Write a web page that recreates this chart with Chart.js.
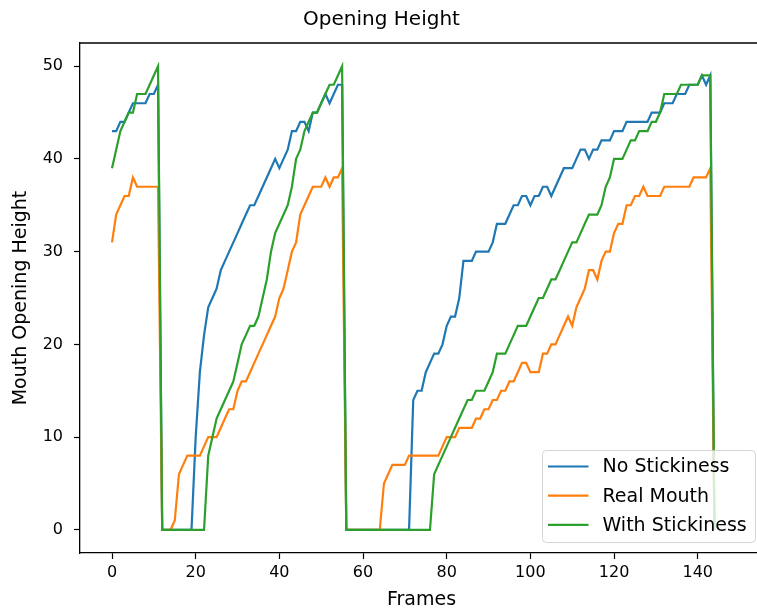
<!DOCTYPE html>
<html>
<head>
<meta charset="utf-8">
<script src="https://cdn.jsdelivr.net/npm/chart.js@4.4.1/dist/chart.umd.min.js"></script>
<style>
  html, body { margin: 0; padding: 0; background: #fff; }
  #wrap { width: 757px; height: 611px; overflow: hidden; }
</style>
</head>
<body>
<div id="wrap"><canvas id="mouthChart" width="763" height="611"></canvas></div>
<script>
// values, one per frame (0..144)
var noStickiness = [43,43,44,44,45,46,46,46,46,47,47,48,
    0,0,0,0,0,0,0,0,
    10,17,21,24,25,26,28,29,30,31,32,33,34,35,35,36,37,38,39,40,39,40,41,43,43,44,44,43,45,45,46,47,46,47,48,48,
    0,0,0,0,0,0,0,0,0,0,0,0,0,0,0,0,
    14,15,15,17,18,19,19,20,22,23,23,25,29,29,29,30,30,30,30,31,33,33,33,34,35,35,36,36,35,36,
    36,37,37,36,37,38,39,39,39,40,41,41,40,41,41,42,42,42,43,43,43,44,44,44,44,44,44,45,45,45,
    46,46,46,47,47,47,48,48,48,49,48,49,
    0];

var realMouth = [31,34,35,36,36,38,37,37,37,37,37,37,
    0,0,0,
    1,6,7,8,8,8,8,9,10,10,10,11,12,13,13,15,16,16,17,18,19,20,21,22,23,25,26,28,30,31,34,35,36,37,37,37,38,37,38,38,39,
    0,0,0,0,0,0,0,0,0,
    5,6,7,7,7,7,8,8,8,8,8,8,8,8,9,10,10,10,11,11,11,11,12,12,13,13,14,14,15,15,
    16,16,17,18,18,17,17,17,19,19,20,20,21,22,23,22,24,25,26,28,28,27,29,30,30,32,33,33,35,35,
    36,36,37,36,36,36,36,37,37,37,37,37,37,37,38,38,38,38,39,
    0];

var withStickiness = [39,41,43,44,45,45,47,47,47,48,49,50,
    0,0,0,0,0,0,0,0,0,0,0,
    8,10,12,13,14,15,16,18,20,21,22,22,23,25,27,30,32,33,34,35,37,40,41,43,44,45,45,46,47,48,48,49,50,
    0,0,0,0,0,0,0,0,0,0,0,0,0,0,0,0,0,0,0,0,0,
    6,7,8,9,10,11,12,13,14,14,15,15,15,16,17,19,19,19,20,21,22,22,22,23,24,25,25,26,27,27,
    28,29,30,31,31,32,33,34,34,34,35,37,38,40,40,40,41,42,42,43,43,43,44,44,45,47,47,47,47,48,
    48,48,48,48,49,49,49,
    0];

var seriesNames = ['No Stickiness', 'Real Mouth', 'With Stickiness'];
var seriesColors = ['#1f77b4', '#ff7f0e', '#2ca02c'];

var xTicks = [0, 20, 40, 60, 80, 100, 120, 140];
var yTicks = [0, 10, 20, 30, 40, 50];

var font = 'DejaVu Sans';

function toPoints(values) {
    return values.map((v, i) => ({x: i, y: v}));
}

// top spine, right one is outside the picture
var topSpine = {
    id: 'topSpine',
    afterDraw(chart) {
        var ctx = chart.ctx, a = chart.chartArea;
        ctx.save();
        ctx.strokeStyle = '#000';
        ctx.lineWidth = 1.3;
        ctx.beginPath();
        ctx.moveTo(a.left, a.top);
        ctx.lineTo(a.right, a.top);
        ctx.stroke();
        ctx.restore();
    }
};

// matplotlib-like legend box in the lower right
var legendBox = {
    id: 'legendBox',
    afterDraw(chart) {
        var ctx = chart.ctx, a = chart.chartArea;
        var right = a.right - 7.5, bottom = a.bottom - 10.5;
        var w = 213, h = 92;
        var left = right - w, top = bottom - h;
        ctx.save();
        ctx.beginPath();
        ctx.roundRect(left, top, w, h, 4);
        ctx.fillStyle = 'rgba(255,255,255,0.8)';
        ctx.fill();
        ctx.strokeStyle = 'rgba(204,204,204,0.8)';
        ctx.lineWidth = 1;
        ctx.stroke();

        chart.data.datasets.forEach((ds, i) => {
            var y = top + 16 + i * 29.2;
            ctx.strokeStyle = ds.borderColor;
            ctx.lineWidth = 2.2;
            ctx.beginPath();
            ctx.moveTo(left + 5.5, y);
            ctx.lineTo(left + 46, y);
            ctx.stroke();
            ctx.fillStyle = '#000';
            ctx.font = '19px "' + font + '"';
            ctx.textBaseline = 'middle';
            ctx.textAlign = 'left';
            ctx.fillText(ds.label, left + 60, y + 1);
        });
        ctx.restore();
    }
};

var ctx = document.getElementById('mouthChart').getContext('2d');

var mouthChart = new Chart(ctx, {
    type: 'line',
    data: {
        datasets: [
            {label: seriesNames[0], data: toPoints(noStickiness), borderColor: seriesColors[0], order: 2},
            {label: seriesNames[1], data: toPoints(realMouth), borderColor: seriesColors[1], order: 1},
            {label: seriesNames[2], data: toPoints(withStickiness), borderColor: seriesColors[2], order: 0}
        ]
    },
    options: {
        responsive: false,
        animation: false,
        devicePixelRatio: 1,
        layout: {padding: 0},
        elements: {
            line: {borderWidth: 2.2, tension: 0, fill: false},
            point: {radius: 0, hoverRadius: 0}
        },
        plugins: {
            legend: {display: false},
            tooltip: {enabled: false},
            title: {
                display: true,
                text: 'Opening Height',
                color: '#000',
                font: {family: font, size: 20, weight: 'normal'},
                padding: {top: 8, bottom: 11}
            }
        },
        scales: {
            x: {
                type: 'linear',
                min: -7.65,
                max: 155.6,
                afterFit: (s) => { s.height = 58; },
                afterBuildTicks: (s) => { s.ticks = xTicks.map(v => ({value: v})); },
                grid: {drawOnChartArea: false, tickLength: 6, tickColor: '#000', tickWidth: 1.2},
                border: {color: '#000', width: 1.3},
                ticks: {color: '#000', padding: 4, maxRotation: 0, font: {family: font, size: 16}},
                title: {
                    display: true,
                    text: 'Frames',
                    color: '#000',
                    font: {family: font, size: 19},
                    padding: {top: 0, bottom: 0}
                }
            },
            y: {
                min: -2.5,
                max: 52.5,
                afterFit: (s) => { s.width = 80; },
                afterBuildTicks: (s) => { s.ticks = yTicks.map(v => ({value: v})); },
                grid: {drawOnChartArea: false, tickLength: 6, tickColor: '#000', tickWidth: 1.2},
                border: {color: '#000', width: 1.3},
                ticks: {color: '#000', padding: 11, font: {family: font, size: 16}},
                title: {
                    display: true,
                    text: 'Mouth Opening Height',
                    color: '#000',
                    font: {family: font, size: 19},
                    padding: {top: 10, bottom: 0}
                }
            }
        }
    },
    plugins: [topSpine, legendBox]
});
</script>
</body>
</html>
